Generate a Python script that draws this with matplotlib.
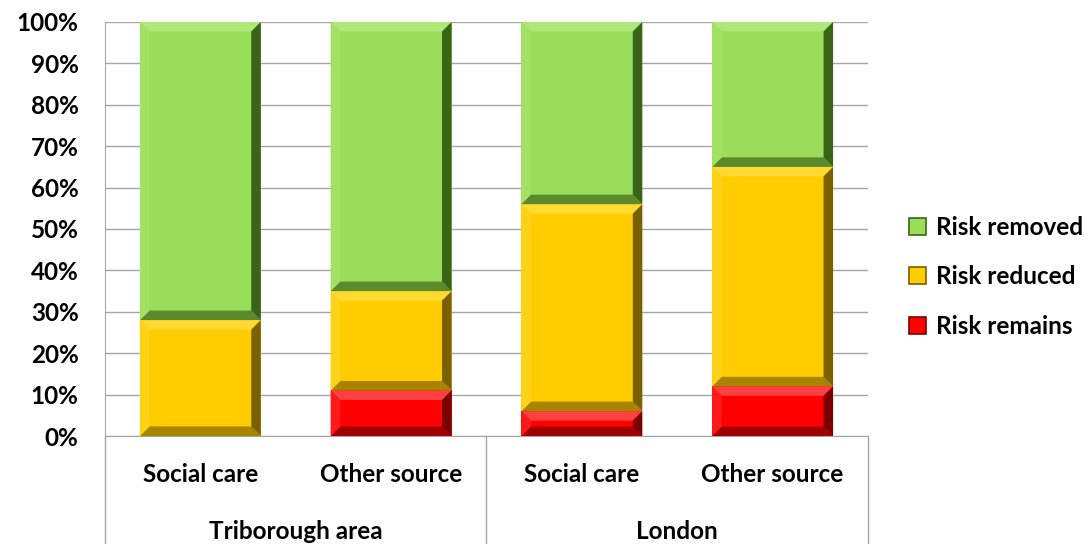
import matplotlib
matplotlib.use("Agg")
import matplotlib.pyplot as plt
from matplotlib.patches import Polygon, Patch
from matplotlib.lines import Line2D
import numpy as np

groups = ["Triborough area", "London"]
categories = ["Social care", "Other source", "Social care", "Other source"]
series_names = ["Risk remains", "Risk reduced", "Risk removed"]
risk_remains = [0, 11, 6, 12]
risk_reduced = [28, 24, 50, 53]
risk_removed = [72, 65, 44, 35]
yticks = [0, 10, 20, 30, 40, 50, 60, 70, 80, 90, 100]

base_colors = ["#FF0000", "#FFCC00", "#9ADD5A"]
light_colors = ["#FF4040", "#FFDA30", "#AEE878"]
dark_colors = ["#7A0000", "#7A6000", "#3A6418"]
side_light = ["#FF1A1A", "#FFD21A", "#A2E066"]
side_dark = ["#A00000", "#A88400", "#5A8A2C"]

FONT = "Lato"
plt.rcParams["font.family"] = [FONT, "DejaVu Sans"]

fig = plt.figure(figsize=(10.91, 5.44), dpi=100)
ax = fig.add_axes([0.0962, 0.1985, 0.6994, 0.7611])

x = np.arange(len(categories))
width = 0.634
bottoms = np.zeros(len(categories))
all_series = [risk_remains, risk_reduced, risk_removed]
for si, vals in enumerate(all_series):
    bars = ax.bar(x, vals, width, bottom=bottoms, color=base_colors[si],
                  edgecolor="none", zorder=2, label=series_names[si])
    for b in bars:
        x0, y0 = b.get_x(), b.get_y()
        w, h = b.get_width(), b.get_height()
        if h <= 0:
            continue
        x1, y1 = x0 + w, y0 + h
        bx = 0.05
        by = min(2.3, h / 2.0)
        bxe = min(bx, w / 2)
        ax.add_patch(Polygon([(x0, y1), (x1, y1), (x1 - bxe, y1 - by), (x0 + bxe, y1 - by)],
                             closed=True, facecolor=light_colors[si], edgecolor="none", zorder=3))
        ax.add_patch(Polygon([(x0, y0), (x1, y0), (x1 - bxe, y0 + by), (x0 + bxe, y0 + by)],
                             closed=True, facecolor=side_dark[si], edgecolor="none", zorder=3))
        ax.add_patch(Polygon([(x0, y0), (x0, y1), (x0 + bxe, y1 - by), (x0 + bxe, y0 + by)],
                             closed=True, facecolor=side_light[si], edgecolor="none", zorder=3))
        ax.add_patch(Polygon([(x1, y0), (x1, y1), (x1 - bxe, y1 - by), (x1 - bxe, y0 + by)],
                             closed=True, facecolor=dark_colors[si], edgecolor="none", zorder=3))
    bottoms = bottoms + np.array(vals)

ax.set_xlim(-0.5, len(categories) - 0.5)
ax.set_ylim(0, 100)
ax.set_yticks(yticks)
ax.set_yticklabels([f"{v}%" for v in yticks], fontsize=17.5, fontweight="bold")
ax.tick_params(axis="y", length=0, pad=19)
ax.set_xticks([])
ax.yaxis.grid(True, color="#A6A6A6", linewidth=1.0, zorder=0)
ax.set_axisbelow(True)
for s in ["top", "right"]:
    ax.spines[s].set_visible(False)
ax.spines["left"].set_color("#A6A6A6")
ax.spines["bottom"].set_color("#A6A6A6")

trans = ax.transAxes
for xv in [0.0, 0.5, 1.0]:
    ax.add_line(Line2D([xv, xv], [0, -0.3], transform=trans, color="#A6A6A6",
                       linewidth=1.0, clip_on=False))
for i, c in enumerate(categories):
    ax.text(i, -0.092, c, transform=ax.get_xaxis_transform(), ha="center", va="center",
            fontsize=17.5, fontweight="bold")
for gi, g in enumerate(groups):
    ax.text(gi * 2 + 0.5, -0.23, g, transform=ax.get_xaxis_transform(), ha="center",
            va="center", fontsize=17.5, fontweight="bold")

handles = [Patch(facecolor=base_colors[i], edgecolor=dark_colors[i], linewidth=1.2)
           for i in [2, 1, 0]]
labels = [series_names[i] for i in [2, 1, 0]]
fig.legend(handles, labels, loc="center left", bbox_to_anchor=(0.818, 0.491),
           frameon=False, handlelength=0.7, handleheight=0.7,
           handletextpad=0.4, labelspacing=1.1, borderpad=0.2,
           prop={"family": [FONT, "DejaVu Sans"], "size": 17.5, "weight": "bold"})

fig.savefig("out.png", dpi=100)
